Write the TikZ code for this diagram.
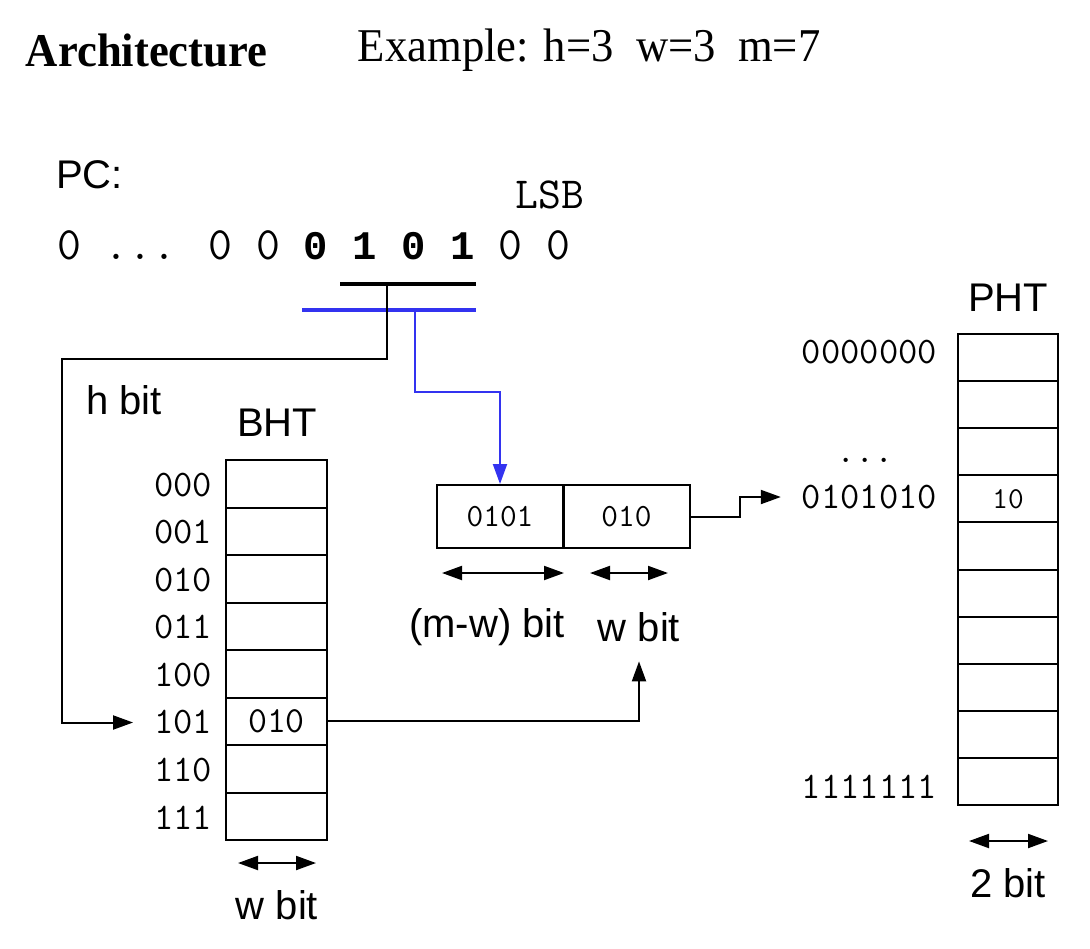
\documentclass[tikz,border=0pt]{standalone}
\usepackage{fontspec}
\setmainfont{Liberation Serif}
\setsansfont{Liberation Sans}
\newfontfamily\heavymono{Liberation Mono}
\usepackage{xcolor}
\usetikzlibrary{arrows.meta}
\definecolor{selblue}{RGB}{51,51,240}

\begin{document}
\begin{tikzpicture}[x=0.5pt, y=-0.5pt, line width=1pt, >={Triangle[length=10pt,width=7pt]},
        cell/.style={draw, rectangle, inner sep=0pt, minimum width=50.5pt, minimum height=23.75pt},
        pcell/.style={cell, minimum width=50pt, minimum height=23.55pt},
        mcell/.style={cell, minimum width=63pt, minimum height=31.5pt, font=\ttfamily\fontsize{16.2}{18}\selectfont},
        addr/.style={anchor=east, inner sep=0pt, font=\ttfamily\fontsize{18.75}{20}\selectfont},
        lbl/.style={font=\sffamily\fontsize{20}{24}\selectfont},
        dim/.style={<->},
        sel/.style={line width=2.3pt}]
    \useasboundingbox (0,0) rectangle (1090,948);

    \node[anchor=west, inner sep=0pt, font=\rmfamily\bfseries\fontsize{23.5}{26}\selectfont, xscale=0.95, transform shape] (arch) at (25,50) {Architecture};
    \node[anchor=west, inner sep=0pt, font=\rmfamily\fontsize{23.5}{26}\selectfont, xscale=0.95, transform shape] (ex) at (357,50) {Example: h=3\ \ w=3\ \ m=7};

    % program counter
    \node[lbl, anchor=west, inner sep=0pt] (pc) at (55,175) {PC:};
    \node[font=\ttfamily\fontsize{22.2}{24}\selectfont] (lsb) at (550,195) {LSB};
    \node[anchor=west, inner sep=0pt, font=\ttfamily\fontsize{23.2}{26}\selectfont] (bits) at (56,245) {0 ... 0 0 {\heavymono\bfseries\fontsize{20.3}{26}\selectfont 0 1 0 1 }0 0};

    \coordinate (hl) at (340,284);
    \coordinate (hr) at (476,284);
    \coordinate (wl) at (302,310);
    \coordinate (wr) at (476,310);
    \coordinate (htap) at (387,284);
    \coordinate (hturn) at (62,359);
    \coordinate (wtap) at (415,310);
    \coordinate (wturn) at (500,392);

    % BHT
    \node[lbl] (bhtlbl) at (277,423) {BHT};
    \foreach \a [count=\i from 0] in {000,001,010,011,100,101,110,111} {
        \node[cell] (bht\i) at (276.5,483.75+47.5*\i) {};
        \node[addr] (ba\i) at (213,485+47.5*\i) {\a};
    }
    \node[font=\ttfamily\fontsize{18.4}{20}\selectfont] at (bht5) {010};
    \node[lbl] (hbit) at (124,400) {h bit};
    \draw[dim] (238,863) -- (316,863);
    \node[lbl] (bw) at (277,905) {w bit};

    % pattern index
    \node[mcell] (idx) at (500,516.5) {0101};
    \node[mcell] (hist) at (626.5,516.5) {010};
    \draw[dim] (442,573) -- (564,573);
    \draw[dim] (590,573) -- (668,573);
    \node[lbl] (mw) at (487,627) {(m-w) bit};
    \node[lbl] (wb) at (639,627) {w bit};

    % PHT
    \node[lbl] (phtlbl) at (1008,298) {PHT};
    \foreach \j in {0,...,9}
        \node[pcell] (pht\j) at (1008,357.55+47.1*\j) {};
    \node[font=\ttfamily\fontsize{15.2}{17}\selectfont] at (pht3) {10};
    \node[addr] (pa0) at (938,352) {0000000};
    \node[addr, anchor=base] (pdots) at (865,462) {...};
    \node[addr] (pa3) at (938,497) {0101010};
    \node[addr] (pa9) at (938,787) {1111111};
    \draw[dim] (969,841) -- (1048,841);
    \node[lbl] (pw) at (1008,883) {2 bit};

    \draw[sel, selblue] (wl) -- (wr);
    \draw[sel] (hl) -- (hr);
    \draw[->, shorten >=10pt] (htap) |- (hturn) |- (ba5.west);
    \draw[->, selblue] (wtap) |- (wturn) -- (idx.north);
    \draw[->, shorten >=6pt] (bht5.east) -| (wb.south);
    \draw[->, shorten >=10pt] (hist.east) -- ++(49,0) |- (pa3.west);
\end{tikzpicture}
\end{document}
